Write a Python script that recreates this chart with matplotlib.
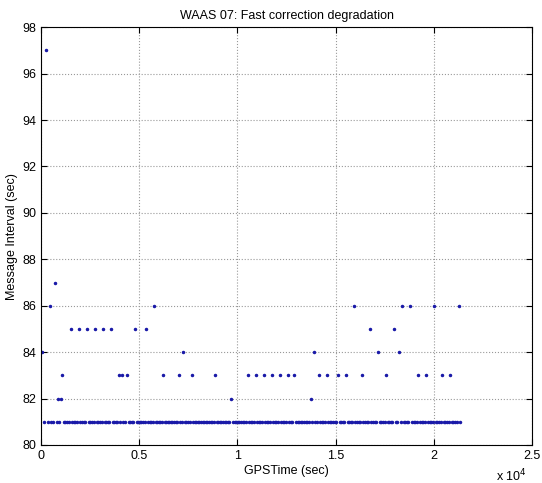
import matplotlib
matplotlib.use("Agg")
import matplotlib.pyplot as plt
import numpy as np

# messages whose interval was not the nominal 81 sec (GPS time, interval)
odd_time = [50, 254, 440, 711, 846, 998, 1083, 1506, 1929, 2352, 2758, 3164,
            3570, 3960, 4112, 4383, 4788, 5364, 5753, 6210, 7022, 7242, 7665,
            8866, 9695, 10525, 10931, 11337, 11743, 12149, 12555, 12902, 13731,
            13883, 14137, 14543, 15118, 15525, 15930, 16337, 16743, 17166,
            17572, 17978, 18232, 18384, 18807, 19213, 19619, 20025, 20431,
            20837, 21260]
odd_interval = [84, 97, 86, 87, 82, 82, 83, 85, 85, 85, 85, 85,
                85, 83, 83, 83, 85, 85, 86, 83, 83, 84, 83,
                83, 82, 83, 83, 83, 83, 83, 83, 83, 82,
                84, 83, 83, 83, 83, 86, 83, 85, 84,
                83, 85, 84, 86, 86, 83, 83, 86, 83,
                83, 86]
# number of 81 sec messages that follow each of the odd ones
n_81_after = [1, 1, 2, 1, 1, 0, 4, 4, 4, 4, 4, 4,
              4, 1, 2, 4, 6, 4, 5, 9, 2, 4, 14,
              9, 9, 4, 4, 4, 4, 4, 3, 9, 1,
              2, 4, 6, 4, 4, 4, 4, 4, 4,
              4, 2, 1, 4, 4, 4, 4, 4, 4,
              4, 1]
nominal = 81

gps_time = []
interval = []
for t, iv, n in zip(odd_time, odd_interval, n_81_after):
    gps_time.append(t)
    interval.append(iv)
    for k in range(1, n + 1):
        gps_time.append(t + nominal * k)
        interval.append(nominal)

plt.rcParams["font.family"] = ["Liberation Sans", "DejaVu Sans"]
fig = plt.figure(figsize=(5.42, 4.83), dpi=100)
ax = fig.add_axes([0.0756, 0.0787, 0.906, 0.865])

ax.plot(gps_time, interval, ".", color="#1a1aa8", markersize=3.0)

ax.set_xlim(0, 25000)
ax.set_ylim(80, 98)
ax.set_xticks(np.arange(0, 25001, 5000))
ax.set_xticklabels(["0", "0.5", "1", "1.5", "2", "2.5"])
ax.set_yticks(np.arange(80, 99, 2))
ax.tick_params(direction="in", labelsize=9, length=4, top=True, right=True)
ax.grid(True, linestyle=":", color="#999999", linewidth=0.8)

ax.set_title("WAAS 07: Fast correction degradation", fontsize=9, pad=6)
ax.set_xlabel("GPSTime (sec)", fontsize=9, labelpad=2)
ax.set_ylabel("Message Interval (sec)", fontsize=9, labelpad=3)
ax.text(0.99, -0.074, r"x 10$^4$", transform=ax.transAxes, fontsize=9,
        ha="right", va="center")

fig.savefig("out.png", dpi=100)
